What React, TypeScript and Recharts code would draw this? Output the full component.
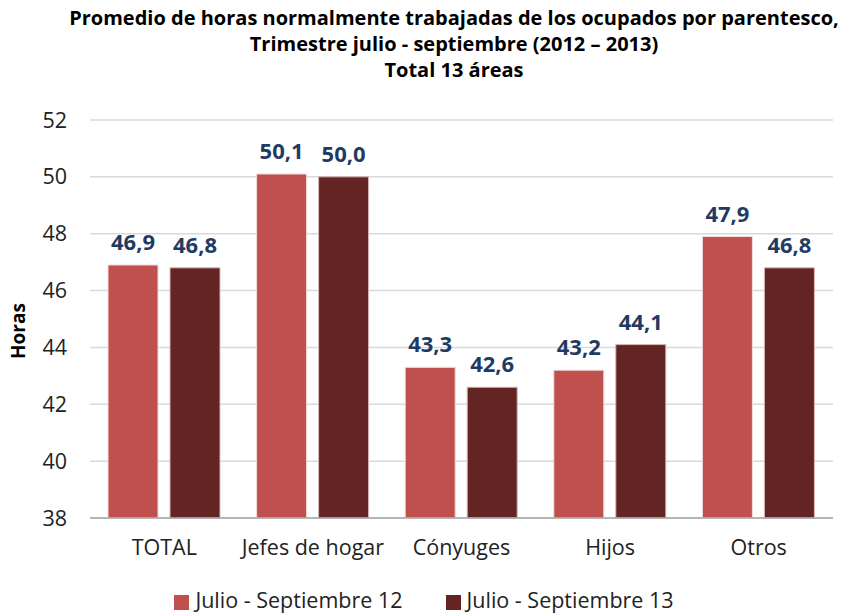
import { BarChart, Bar, XAxis, YAxis, CartesianGrid, Legend, LabelList } from "recharts";

const categories = ["TOTAL", "Jefes de hogar", "Cónyuges", "Hijos", "Otros"];
const serie2012 = [46.9, 50.1, 43.3, 43.2, 47.9];
const serie2013 = [46.8, 50.0, 42.6, 44.1, 46.8];
const yTicks = [38, 40, 42, 44, 46, 48, 50, 52];

const data = categories.map((name, i) => ({ name, s12: serie2012[i], s13: serie2013[i] }));

const FONT = "'Open Sans', 'Liberation Sans', sans-serif";
const fmt = (v: any) => Number(v).toFixed(1).replace(".", ",");
const labelStyle = { fill: "#1F3B63", fontWeight: 700, fontSize: 22, fontFamily: FONT };

export default function App() {
  return (
    <div style={{ position: "absolute", left: 0, top: 0, width: 841, height: 614, fontFamily: FONT, background: "#fff" }}>
      <div style={{ position: "absolute", left: 54, top: 5, width: 800, textAlign: "center", fontWeight: 700, fontSize: 20, lineHeight: "26px", color: "#000", whiteSpace: "nowrap" }}>
        <div>Promedio de horas normalmente trabajadas de los ocupados por parentesco,</div>
        <div>Trimestre julio - septiembre (2012 – 2013)</div>
        <div>Total 13 áreas</div>
      </div>
      <div style={{ position: "absolute", left: 18, top: 331, transform: "translate(-50%, -50%) rotate(-90deg)", fontWeight: 700, fontSize: 19, color: "#000" }}>
        Horas
      </div>
      <BarChart
        width={841}
        height={614}
        data={data}
        margin={{ top: 120, right: 8, bottom: 0, left: 0 }}
        barCategoryGap={18}
        barGap={12}
        style={{ position: "absolute", left: 0, top: 0 }}
      >
        <CartesianGrid vertical={false} stroke="#D9D9D9" strokeWidth={1.5} />
        <XAxis
          dataKey="name"
          axisLine={{ stroke: "#A6A6A6", strokeWidth: 1.5 }}
          tickLine={false}
          tick={{ fill: "#222", fontSize: 21.5, fontFamily: FONT }}
          tickMargin={16}
          height={67}
        />
        <YAxis
          domain={[38, 52]}
          ticks={yTicks}
          axisLine={false}
          tickLine={false}
          tick={{ fill: "#222", fontSize: 21.5, fontFamily: FONT }}
          tickMargin={17}
          width={90}
          interval={0}
        />
        <Legend
          verticalAlign="bottom"
          iconType="square"
          iconSize={15}
          wrapperStyle={{ left: 0, width: 841, boxSizing: "border-box", paddingLeft: 17, fontSize: 21.5, fontFamily: FONT, color: "#222" }}
          formatter={(value: any, _entry: any, index: number) => (
            <span style={{ color: "#222", marginLeft: 2, marginRight: index === 0 ? 33 : 0 }}>{value}</span>
          )}
        />
        <Bar dataKey="s12" name="Julio - Septiembre 12" fill="#C0504D" stroke="#F2DCDB" strokeWidth={1} isAnimationActive={false}>
          <LabelList dataKey="s12" position="top" offset={15} formatter={fmt} style={labelStyle} />
        </Bar>
        <Bar dataKey="s13" name="Julio - Septiembre 13" fill="#632523" stroke="#D8B7B6" strokeWidth={1} isAnimationActive={false}>
          <LabelList dataKey="s13" position="top" offset={15} formatter={fmt} style={labelStyle} />
        </Bar>
      </BarChart>
    </div>
  );
}
